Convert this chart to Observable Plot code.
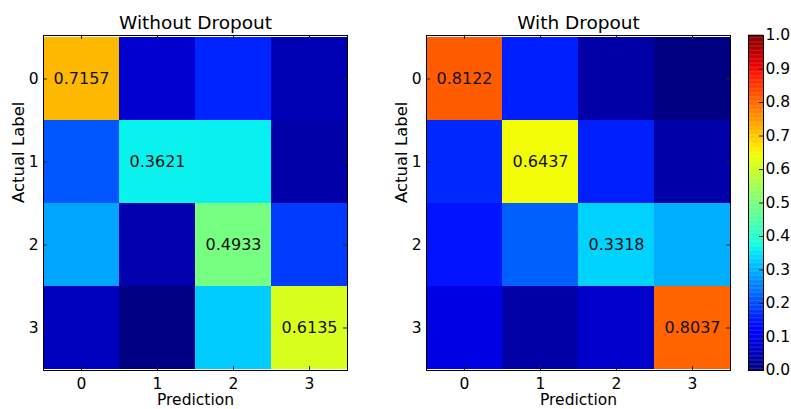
<!DOCTYPE html>
<html>
<head>
<meta charset="utf-8">
<script src="https://cdn.jsdelivr.net/npm/d3@7"></script>
<script src="https://cdn.jsdelivr.net/npm/@observablehq/plot@0.6"></script>
<style>
  html, body { margin: 0; padding: 0; background: #fff; }
  #wrap { position: relative; width: 791px; height: 409px; overflow: hidden; font-family: "DejaVu Sans", sans-serif; }
  #wrap > svg { position: absolute; top: 0; }
</style>
</head>
<body>
<div id="wrap"></div>
<script>
// ---- data ----
const classes = [0, 1, 2, 3];
const titles = ["Without Dropout", "With Dropout"];
// rows = actual label, columns = prediction
const withoutDropout = [
  [0.7157, 0.068, 0.160, 0.045],
  [0.210, 0.3621, 0.360, 0.036],
  [0.287, 0.040, 0.4933, 0.184],
  [0.055, 0.005, 0.325, 0.6135]
];
const withDropout = [
  [0.8122, 0.155, 0.033, 0.002],
  [0.165, 0.6437, 0.155, 0.035],
  [0.145, 0.220, 0.3318, 0.297],
  [0.088, 0.033, 0.066, 0.8037]
];
const colorbarTicks = [0, 0.1, 0.2, 0.3, 0.4, 0.5, 0.6, 0.7, 0.8, 0.9, 1.0];

// ---- jet colormap (matplotlib segment data) ----
const seg = {
  r: [[0, 0], [0.35, 0], [0.66, 1], [0.89, 1], [1, 0.5]],
  g: [[0, 0], [0.125, 0], [0.375, 1], [0.64, 1], [0.91, 0], [1, 0]],
  b: [[0, 0.5], [0.11, 1], [0.34, 1], [0.65, 0], [1, 0]]
};
function interpSeg(s, t) {
  t = Math.max(0, Math.min(1, t));
  for (let i = 1; i < s.length; i++) {
    if (t <= s[i][0]) {
      const [x0, y0] = s[i - 1], [x1, y1] = s[i];
      return y0 + (y1 - y0) * (t - x0) / (x1 - x0);
    }
  }
  return s[s.length - 1][1];
}
function jet(t) {
  const c = k => Math.round(255 * interpSeg(seg[k], t));
  return `rgb(${c("r")},${c("g")},${c("b")})`;
}
const colorScale = { type: "linear", domain: [0, 1], interpolate: jet };

const W = 360, H = 409, mT = 35, mB = 39, mL = 43, mR = 13;
const plotH = H - mT - mB, plotW = W - mL - mR;
const FS = 15.5;

function matrixPlot(matrix, title) {
  const data = [];
  matrix.forEach((row, i) => row.forEach((v, j) => data.push({ actual: classes[i], pred: classes[j], v })));
  const diag = data.filter(d => d.actual === d.pred);
  return Plot.plot({
    width: W, height: H,
    marginTop: mT, marginBottom: mB, marginLeft: mL, marginRight: mR,
    style: { fontFamily: "DejaVu Sans", fontSize: FS + "px", color: "#000", background: "transparent" },
    x: { type: "band", domain: classes, padding: 0, label: null },
    y: { type: "band", domain: classes, padding: 0, label: null },
    color: colorScale,
    marks: [
      Plot.cell(data, { x: "pred", y: "actual", fill: "v", inset: 0 }),
      Plot.text(diag, { x: "pred", y: "actual", text: d => d.v.toFixed(4), fill: "#111", fontSize: 16 }),
      // inward tick marks on all four sides
      Plot.tickX(classes, { x: d => d, insetTop: plotH - 4, stroke: "#222" }),
      Plot.tickX(classes, { x: d => d, insetBottom: plotH - 4, stroke: "#222" }),
      Plot.tickY(classes, { y: d => d, insetRight: plotW - 4, stroke: "#222" }),
      Plot.tickY(classes, { y: d => d, insetLeft: plotW - 4, stroke: "#222" }),
      Plot.axisX({ anchor: "bottom", tickSize: 0, tickPadding: 7, fontSize: FS, label: null }),
      Plot.axisY({ anchor: "left", tickSize: 0, tickPadding: 5, fontSize: FS, label: null }),
      Plot.frame({ stroke: "#000", strokeWidth: 1 }),
      Plot.text([title], { frameAnchor: "top", lineAnchor: "middle", dy: -12, fontSize: 18.5, fill: "#000", text: d => d }),
      Plot.text(["Prediction"], { frameAnchor: "bottom", lineAnchor: "middle", dy: 30, fontSize: FS, fill: "#000", text: d => d }),
      Plot.text(["Actual Label"], { frameAnchor: "left", lineAnchor: "middle", dx: -25, rotate: -90, fontSize: 16.5, fill: "#000", text: d => d })
    ]
  });
}

function colorbar() {
  const N = 256;
  const stripes = d3.range(N).map(i => i / N);
  return Plot.plot({
    width: 51, height: H,
    marginTop: mT, marginBottom: mB, marginLeft: 8, marginRight: 28,
    style: { fontFamily: "DejaVu Sans", fontSize: FS + "px", color: "#000", background: "transparent", overflow: "visible" },
    x: { domain: [0, 1], axis: null },
    y: { domain: [0, 1], label: null },
    color: colorScale,
    marks: [
      Plot.rect(stripes, { x1: 0, x2: 1, y1: d => d, y2: d => d + 1 / N + 0.001, fill: d => d + 0.5 / N }),
      Plot.tickY(colorbarTicks, { y: d => d, insetLeft: 11, stroke: "#222" }),
      Plot.axisY({ anchor: "right", ticks: colorbarTicks, tickFormat: d3.format(".1f"), tickSize: 0, tickPadding: 2, fontSize: FS, label: null }),
      Plot.frame({ stroke: "#000", strokeWidth: 1 })
    ]
  });
}

const wrap = document.getElementById("wrap");
const p1 = matrixPlot(withoutDropout, titles[0]);
p1.style.left = "0px";
const p2 = matrixPlot(withDropout, titles[1]);
p2.style.left = "383px";
const cb = colorbar();
cb.style.left = "740px";
wrap.append(p1, p2, cb);
</script>
</body>
</html>
